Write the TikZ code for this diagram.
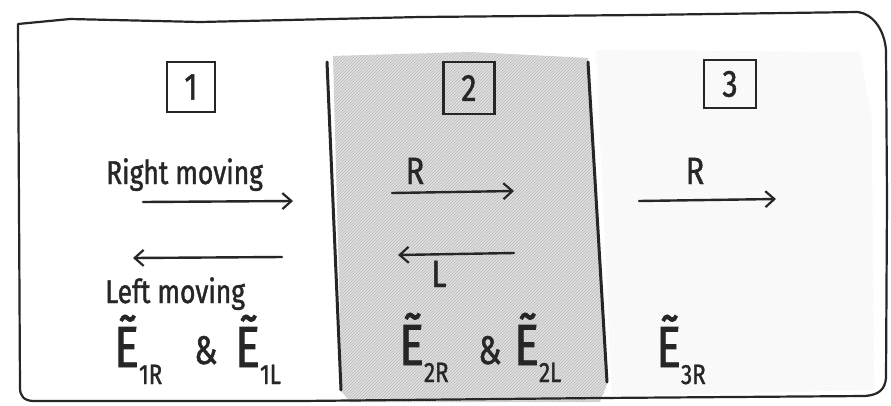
\documentclass[tikz,border=0pt]{standalone}
\usepackage{fontspec}
\newfontfamily\hand[FakeStretch=0.8,FakeBold=1.2]{Fira Sans}
\newcommand\hsub{\fontsize{28}{28}\selectfont}
\usetikzlibrary{arrows.meta,patterns}
\definecolor{ink}{HTML}{262626}

\begin{document}
\begin{tikzpicture}[x=1pt,y=-1pt,
  pencil/.style={draw=ink, line width=2.2pt, line cap=round, line join=round},
  divider/.style={draw=ink, line width=3pt, line cap=round},
  arrowline/.style={draw=ink, line width=2.4pt, line cap=round,
    -{Straight Barb[length=9pt,width=16pt,line width=2.2pt]}},
  numbox/.style={draw=ink, line width=2.2pt, inner sep=0pt, text=ink,
    font=\hand\fontsize{38}{38}\selectfont},
  hw/.style={inner sep=0pt, text=ink, font=\hand\fontsize{33}{33}\selectfont},
  letter/.style={inner sep=0pt, text=ink, anchor=base,
    font=\hand\fontsize{38}{38}\selectfont},
  bigE/.style={inner sep=0pt, text=ink, anchor=base west,
    font=\hand\fontsize{58}{58}\selectfont},
  amp/.style={inner sep=0pt, text=ink, anchor=base west,
    font=\hand\fontsize{40}{40}\selectfont}]

\useasboundingbox (0,0) rectangle (891,405);
\fill[white] (0,0) rectangle (891,405);

% shaded medium (region 2) and faint region 3
\fill[gray!24] (333,56) -- (470,52) -- (588,58) -- (607,384) -- (600,402) -- (350,402) -- (342,392) -- cycle;
\fill[pattern=north east lines, pattern color=gray!55] (333,56) -- (470,52) -- (588,58) -- (607,384) -- (600,402) -- (350,402) -- (342,392) -- cycle;
\fill[pattern=north east lines, pattern color=gray!12] (596,50) -- (860,52) -- (872,120) -- (874,390) -- (612,396) -- cycle;

% outer frame
\draw[pencil] (18,24) -- (70,19) -- (200,22) -- (420,17) -- (640,15) -- (858,12)
  .. controls (872,14) and (884,28) .. (886,50) -- (887,200) -- (886,378)
  .. controls (885,390) and (878,395) .. (865,396)
  -- (600,398) -- (300,401) -- (34,401)
  .. controls (24,401) and (20,396) .. (20,388) -- (18,24);

% interfaces
\coordinate (d1t) at (327,62); \coordinate (d1b) at (341,390);
\coordinate (d2t) at (588,62); \coordinate (d2b) at (607,382);
\draw[divider] (d1t) -- (d1b);
\draw[divider] (d2t) -- (d2b);

% region labels
\node[numbox, minimum width=48pt, minimum height=50pt] (b1) at (191,87) {1};
\node[numbox, minimum width=51pt, minimum height=52pt] (b2) at (469,88) {2};
\node[numbox, minimum width=52pt, minimum height=48pt] (b3) at (730,84) {3};

% region 1
\node[hw, anchor=base west] (rmov) at (106,184) {Right moving};
\node[hw, anchor=base west] (lmov) at (105,303) {Left moving};
\coordinate (a1s) at (143,202); \coordinate (a1e) at (293,201);
\coordinate (a2s) at (282,257); \coordinate (a2e) at (133,258);
\draw[arrowline] (a1s) -- (a1e);
\draw[arrowline] (a2s) -- (a2e);
\node[bigE] (e1r) at (114,367) {Ẽ\raisebox{-17pt}{\hsub 1R}};
\node[amp] (amp1) at (194,364) {\&};
\node[bigE] (e1l) at (235,367) {Ẽ\raisebox{-17pt}{\hsub 1L}};

% region 2
\node[letter] (r2) at (415,184) {R};
\coordinate (a3s) at (392,193); \coordinate (a3e) at (514,191);
\coordinate (a4s) at (514,253); \coordinate (a4e) at (398,255);
\draw[arrowline] (a3s) -- (a3e);
\draw[arrowline] (a4s) -- (a4e);
\node[letter] (l2) at (439,287) {L};
\node[bigE] (e2r) at (399,365) {Ẽ\raisebox{-17pt}{\hsub 2R}};
\node[amp] (amp2) at (478,364) {\&};
\node[bigE] (e2l) at (514,365) {Ẽ\raisebox{-17pt}{\hsub 2L}};

% region 3
\node[letter] (r3) at (695,184) {R};
\coordinate (a5s) at (639,201); \coordinate (a5e) at (776,199);
\draw[arrowline] (a5s) -- (a5e);
\node[bigE] (e3r) at (656,367) {Ẽ\raisebox{-17pt}{\hsub 3R}};
\end{tikzpicture}
\end{document}
